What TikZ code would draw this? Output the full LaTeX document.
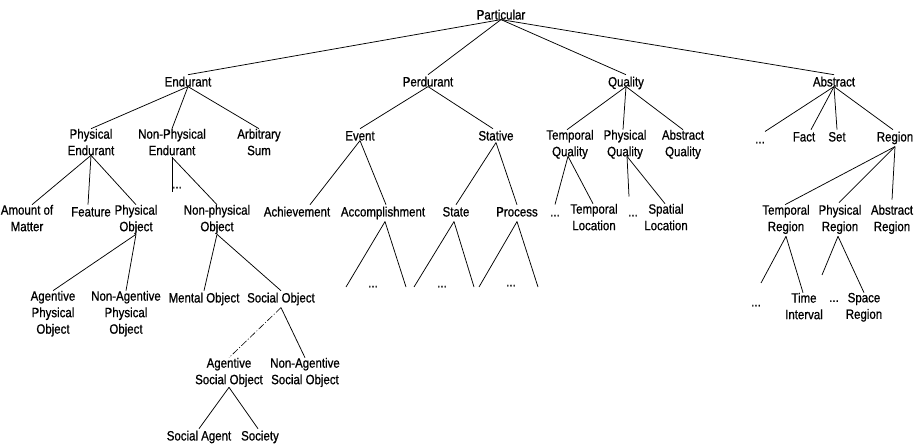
\documentclass[tikz,border=0pt]{standalone}
\usepackage{fontspec}
\setmainfont{Liberation Sans}[FakeStretch=0.85,FakeBold=0.8]
\begin{document}
\begin{tikzpicture}[x=1pt,y=-1pt,
  lbl/.style={font=\fontsize{13.5}{16.5}\selectfont, inner sep=0pt, align=center,
    anchor=north, execute at begin node=\strut, execute at end node=\strut},
  conn/.style={line width=0.75pt},
  faint/.style={line width=0.6pt, dash pattern=on 7pt off 2pt on 1pt off 2pt}]
\fill[white] (0,0) rectangle (917,444);
\useasboundingbox (0,0) rectangle (917,444);

% root and first level
\node[lbl] (part) at (501,7.7) {Particular};
\node[lbl] (endu) at (188,74.7) {Endurant};
\node[lbl] (perd) at (428,74.7) {Perdurant};
\node[lbl] (qual) at (626,74.7) {Quality};
\node[lbl] (abst) at (834,74.7) {Abstract};

% second level
\node[lbl] (pend)  at (91,128.7)  {Physical\\Endurant};
\node[lbl] (npend) at (172,128.7) {Non-Physical\\Endurant};
\node[lbl] (asum)  at (259,128.7) {Arbitrary\\Sum};
\node[lbl] (event) at (360,128.7) {Event};
\node[lbl] (stat)  at (496,128.7) {Stative};
\node[lbl] (tq)    at (570,129.7) {Temporal\\Quality};
\node[lbl] (pq)    at (625,129.7) {Physical\\Quality};
\node[lbl] (aq)    at (683,129.7) {Abstract\\Quality};
\node[lbl] (adots) at (760,131.5) {...};
\node[lbl] (fact)  at (804,129.7) {Fact};
\node[lbl] (set)   at (837,129.7) {Set};
\node[lbl] (reg)   at (895,129.7) {Region};

% third level
\node[lbl] (amt)    at (27,204.7)  {Amount of\\Matter};
\node[lbl] (feat)   at (91,204.7)  {Feature};
\node[lbl] (pobj)   at (136,204.7) {Physical\\Object};
\node[lbl] (npdots) at (177,176.5) {...};
\node[lbl] (npobj)  at (217,204.7) {Non-physical\\Object};
\node[lbl] (ach)    at (297,204.7) {Achievement};
\node[lbl] (acc)    at (383,204.7) {Accomplishment};
\node[lbl] (state)  at (456,204.7) {State};
\node[lbl] (proc)   at (517,204.7) {Process};
\node[lbl] (tqdots) at (555,204.5) {...};
\node[lbl] (tloc)   at (594,203.7) {Temporal\\Location};
\node[lbl] (pqdots) at (633,204.5) {...};
\node[lbl] (sloc)   at (666,203.7) {Spatial\\Location};
\node[lbl] (treg)   at (786,204.7) {Temporal\\Region};
\node[lbl] (preg)   at (840,204.7) {Physical\\Region};
\node[lbl] (areg)   at (892,204.7) {Abstract\\Region};

% fourth level
\node[lbl] (apo)  at (53,290.7)  {Agentive\\Physical\\Object};
\node[lbl] (napo) at (126,290.7) {Non-Agentive\\Physical\\Object};
\node[lbl] (mobj) at (204,290.7) {Mental Object};
\node[lbl] (sobj) at (281,290.7) {Social Object};
\node[lbl] (accdots)   at (373,275.5) {...};
\node[lbl] (statedots) at (442,275.5) {...};
\node[lbl] (procdots)  at (511,274.5) {...};
\node[lbl] (trdots) at (756,294.5) {...};
\node[lbl] (time)   at (804,292.7) {Time\\Interval};
\node[lbl] (prdots) at (834,290)   {...};
\node[lbl] (space)  at (864,292.7) {Space\\Region};

% social objects
\node[lbl] (asobj)   at (229,357.7) {Agentive\\Social Object};
\node[lbl] (nasobj)  at (305,357.7) {Non-Agentive\\Social Object};
\node[lbl] (sagent)  at (199,428.7) {Social Agent};
\node[lbl] (society) at (260,428.7) {Society};

% open branch ends
\coordinate (npend-end) at (172,192);
\coordinate (acc-l)   at (346,287);
\coordinate (acc-r)   at (406,287);
\coordinate (state-l) at (414,287);
\coordinate (state-r) at (474,287);
\coordinate (proc-l)  at (479,287);
\coordinate (proc-r)  at (538,287);
\coordinate (treg-l)  at (761,283);
\coordinate (preg-l)  at (822,275);

% Particular
\draw[conn] ([yshift=5pt]part.south) -- (endu.north);
\draw[conn] ([yshift=5pt]part.south) -- (perd.north);
\draw[conn] ([yshift=5pt]part.south) -- (qual.north);
\draw[conn] ([yshift=5pt]part.south) -- (abst.north);

% Endurant branch
\draw[conn] ([yshift=5pt]endu.south) -- (pend.north);
\draw[conn] ([yshift=5pt]endu.south) -- (npend.north);
\draw[conn] ([yshift=5pt]endu.south) -- (asum.north);
\draw[conn] ([yshift=5pt]pend.south) -- ([xshift=5pt]amt.north);
\draw[conn] ([yshift=5pt]pend.south) -- ([xshift=-3pt]feat.north);
\draw[conn] ([yshift=5pt]pend.south) -- (pobj.north);
\draw[conn] ([yshift=3pt]npend.south) -- (npend-end);
\draw[conn] ([yshift=3pt]npend.south) -- (npobj.north);
\draw[conn] ([yshift=2pt]pobj.south) -- (apo.north);
\draw[conn] ([yshift=2pt]pobj.south) -- (napo.north);
\draw[conn] ([yshift=2pt]npobj.south) -- (mobj.north);
\draw[conn] ([yshift=2pt]npobj.south) -- (sobj.north);
\draw[faint] (sobj.south) -- (asobj.north);
\draw[conn] (sobj.south) -- (nasobj.north);
\draw[conn] ([yshift=2pt]asobj.south) -- (sagent.north);
\draw[conn] ([yshift=2pt]asobj.south) -- ([xshift=-2pt]society.north);

% Perdurant branch
\draw[conn] ([yshift=5pt]perd.south) -- (event.north);
\draw[conn] ([yshift=5pt]perd.south) -- ([xshift=-3pt]stat.north);
\draw[conn] ([yshift=5pt]event.south) -- ([xshift=13pt]ach.north);
\draw[conn] ([yshift=5pt]event.south) -- ([xshift=3pt]acc.north);
\draw[conn] ([yshift=3pt]stat.south) -- (state.north);
\draw[conn] ([yshift=3pt]stat.south) -- (proc.north);
\draw[conn] ([xshift=2pt]acc.south) -- (acc-l);
\draw[conn] ([xshift=2pt]acc.south) -- (acc-r);
\draw[conn] ([xshift=-2pt]state.south) -- (state-l);
\draw[conn] ([xshift=-2pt]state.south) -- (state-r);
\draw[conn] (proc.south) -- (proc-l);
\draw[conn] (proc.south) -- (proc-r);

% Quality branch
\draw[conn] ([yshift=5pt]qual.south) -- ([xshift=-3pt]tq.north);
\draw[conn] ([yshift=5pt]qual.south) -- ([xshift=-2pt]pq.north);
\draw[conn] ([yshift=5pt]qual.south) -- (aq.north);
\draw[conn] ([xshift=-2pt,yshift=5pt]tq.south) -- (tqdots.north);
\draw[conn] ([xshift=-2pt,yshift=5pt]tq.south) -- ([xshift=-1pt]tloc.north);
\draw[conn] ([xshift=2pt,yshift=5pt]pq.south) -- ([xshift=-4pt,yshift=8pt]pqdots.north);
\draw[conn] ([xshift=2pt,yshift=5pt]pq.south) -- ([xshift=-1pt]sloc.north);

% Abstract branch
\draw[conn] ([yshift=5pt]abst.south) -- ([xshift=5pt]adots.north);
\draw[conn] ([yshift=5pt]abst.south) -- ([xshift=7pt]fact.north);
\draw[conn] ([yshift=5pt]abst.south) -- (set.north);
\draw[conn] ([yshift=5pt]abst.south) -- ([xshift=-2pt]reg.north);
\draw[conn] (reg.south) -- ([xshift=-1pt]treg.north);
\draw[conn] (reg.south) -- ([xshift=-1pt,yshift=2pt]preg.north);
\draw[conn] (reg.south) -- ([yshift=5pt]areg.north);
\draw[conn] (treg.south) -- (treg-l);
\draw[conn] (treg.south) -- ([xshift=-1pt]time.north);
\draw[conn] ([xshift=-2pt]preg.south) -- (preg-l);
\draw[conn] ([xshift=-2pt]preg.south) -- (space.north);
\end{tikzpicture}
\end{document}
